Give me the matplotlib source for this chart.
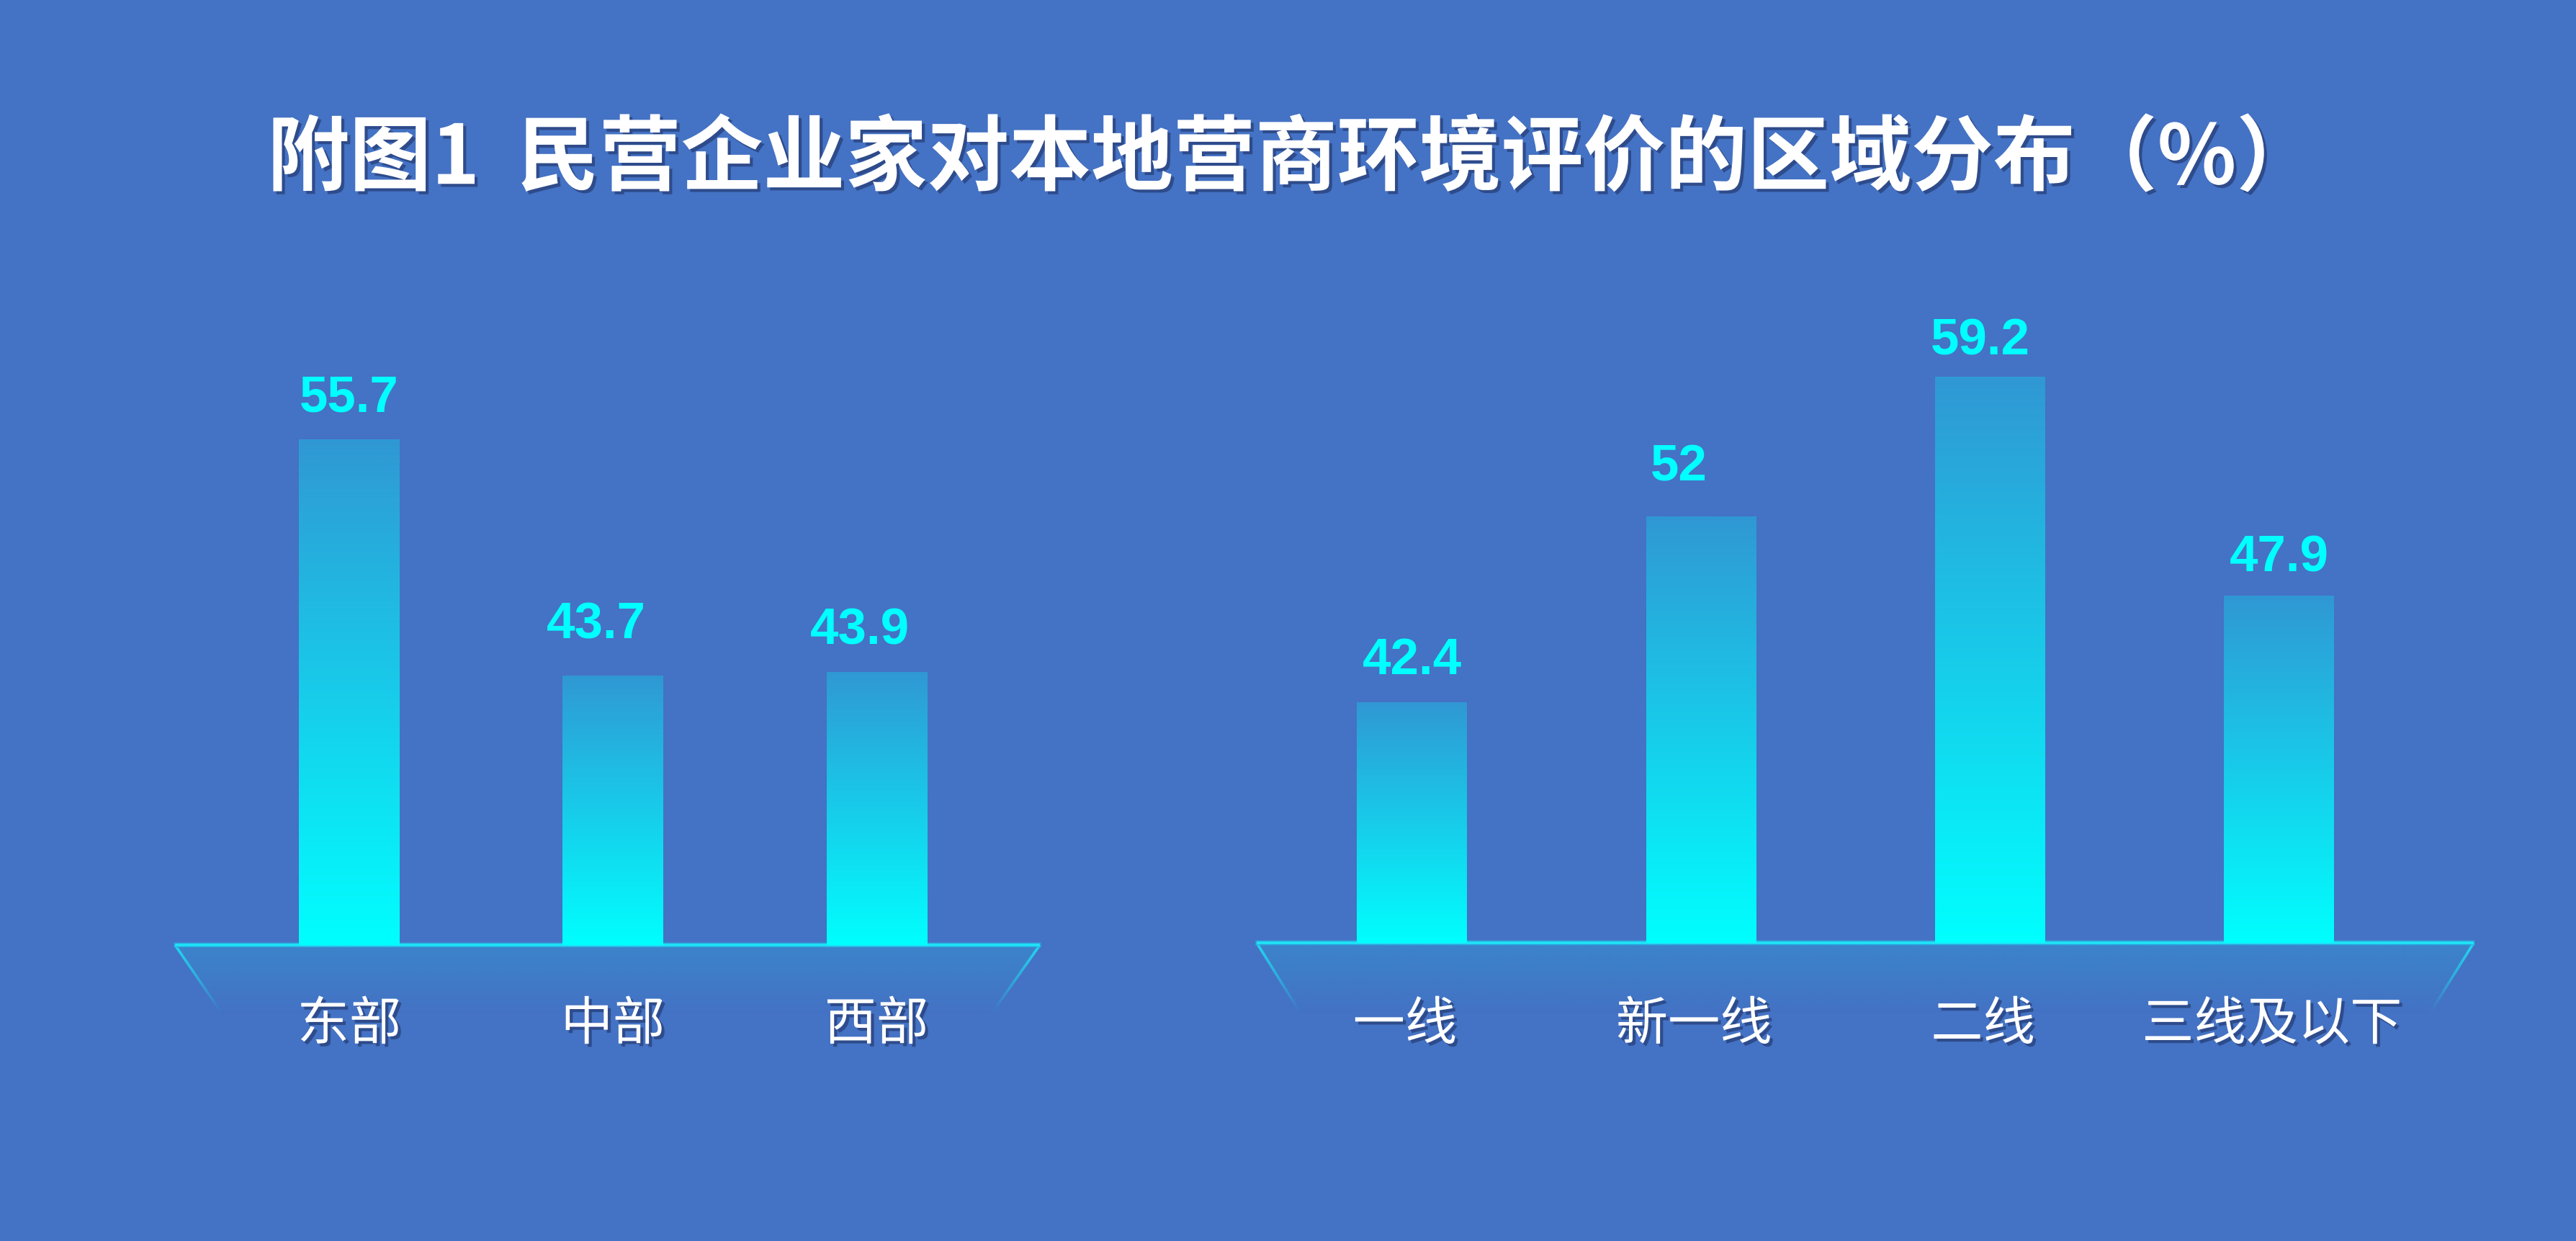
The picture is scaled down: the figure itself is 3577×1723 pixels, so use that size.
import numpy as np
import matplotlib
matplotlib.use("Agg")
import matplotlib.pyplot as plt
import matplotlib.patheffects as pe
from matplotlib.collections import LineCollection
from matplotlib.patches import Polygon
from matplotlib.colors import LinearSegmentedColormap, to_rgb
import matplotlib.transforms as mtransforms

plt.rcParams['font.family'] = ['Noto Sans CJK SC', 'DejaVu Sans']

# ---------------- data ----------------
title = "附图1  民营企业家对本地营商环境评价的区域分布（%）"
region_labels = ["东部", "中部", "西部"]
region_values = [55.7, 43.7, 43.9]
city_labels = ["一线", "新一线", "二线", "三线及以下"]
city_values = [42.4, 52, 59.2, 47.9]

# ---------------- style ----------------
W, H = 3577, 1723
BG = "#4472c4"
BAR_TOP = "#3098d4"
BAR_BOTTOM = "#00ffff"
VALUE_COLOR = "#00ffff"
LINE_COLOR = "#1fe0f5"
PLAT_FILL = "#3a88cc"
# manual nudges of value labels (pixels): horizontal shift, gap above bar
region_dx = [0, -23, -23]
region_gap = [39, 51, 38]
city_dx = [0, -31, -14, 0]
city_gap = [39, 50, 31, 34]

fig = plt.figure(figsize=(W / 100, H / 100), dpi=100, facecolor=BG)

bg = fig.add_axes([0, 0, 1, 1], zorder=0)
bg.set_facecolor(BG)
bg.axis("off")


def rect(x0, y0, x1, y1):
    return [x0 / W, (H - y1) / H, (x1 - x0) / W, (y1 - y0) / H]


def platform(xl, xr, ytop, xbl, xbr, ybot):
    poly = Polygon([(xl, ytop), (xr, ytop), (xbr, ybot), (xbl, ybot)],
                   closed=True, facecolor="none", edgecolor="none")
    bg.add_patch(poly)
    n = 200
    rgb = np.array(to_rgb(PLAT_FILL))
    arr = np.zeros((n, 2, 4))
    arr[..., :3] = rgb
    arr[..., 3] = np.linspace(0.85, 0.0, n)[:, None]
    im = bg.imshow(arr, extent=(xl, xr, ybot, ytop), origin="upper",
                   aspect="auto", interpolation="bilinear", zorder=1)
    im.set_clip_path(poly)
    m = 60
    for (xa, xb) in [(xl, xbl), (xr, xbr)]:
        xs = np.linspace(xa, xb, m + 1)
        ys = np.linspace(ytop, ybot, m + 1)
        segs = [[(xs[i], ys[i]), (xs[i + 1], ys[i + 1])] for i in range(m)]
        cols = [(*to_rgb(LINE_COLOR), a) for a in np.linspace(1, 0, m)]
        lc = LineCollection(segs, colors=cols, linewidths=2.6, zorder=2,
                            capstyle="butt")
        bg.add_collection(lc)
    bg.plot([xl - 2, xr + 2], [ytop, ytop], color="#2aa6e0", lw=5.5,
            solid_capstyle="butt", zorder=2, alpha=0.6)
    bg.plot([xl, xr], [ytop, ytop], color=LINE_COLOR, lw=3.0,
            solid_capstyle="butt", zorder=3)


platform(243, 1444, 1312, 308, 1377, 1407)
platform(1745, 3435, 1309, 1806, 3374, 1407)
bg.set_xlim(0, W)
bg.set_ylim(H, 0)

cmap = LinearSegmentedColormap.from_list("barg", [BAR_BOTTOM, BAR_TOP])
shadow = [pe.withSimplePatchShadow(offset=(3, -3), shadow_rgbFace="#1c2c5c",
                                   alpha=0.55)]
PX = 72 / 100  # points per pixel


def panel(axrect, labels, values, xlim, ylim, width, label_y, dxs, gaps,
          label_dx=0):
    ax = fig.add_axes(axrect, zorder=2)
    ax.patch.set_alpha(0)
    x = np.arange(len(values))
    bars = ax.bar(x, values, width=width, color="none", edgecolor="none")
    grad = np.linspace(0, 1, 256)[::-1].reshape(-1, 1)
    for b, v, dx, gap in zip(bars, values, dxs, gaps):
        x0 = b.get_x()
        im = ax.imshow(grad, cmap=cmap, extent=(x0, x0 + b.get_width(), ylim[0], v),
                       origin="upper", aspect="auto", interpolation="bilinear",
                       vmin=0, vmax=1)
        im.set_clip_path(b)
        ax.annotate(f"{v:g}", (b.get_x() + b.get_width() / 2, v),
                    xytext=(dx * PX, gap * PX), textcoords="offset points",
                    ha="center", va="baseline", color=VALUE_COLOR,
                    fontsize=51, fontweight="bold",
                    family=["Liberation Sans", "DejaVu Sans"])
    trans = mtransforms.blended_transform_factory(ax.transData, ax.transAxes)
    trans = trans + mtransforms.ScaledTranslation(label_dx / 100, 0,
                                                  fig.dpi_scale_trans)
    for xi, lab in zip(x, labels):
        ax.text(xi, label_y, lab, transform=trans, ha="center", va="center",
                color="white", fontsize=52, path_effects=shadow)
    ax.set_xlim(*xlim)
    ax.set_ylim(*ylim)
    ax.axis("off")
    return ax


panel(rect(243, 493, 1444, 1312), region_labels, region_values,
      (-0.661, 2.620), (30, 60), 0.38, -0.1355, region_dx, region_gap)
panel(rect(1745, 448, 3435, 1309), city_labels, city_values,
      (-0.538, 3.673), (30, 62), 0.381, -0.1324, city_dx, city_gap,
      label_dx=-10)

fig.text(1795 / W, 1 - 222 / H, title, ha="center", va="center",
         color="white", fontsize=82, fontweight="bold", path_effects=shadow)

fig.savefig("out.png", dpi=100, facecolor=BG)
